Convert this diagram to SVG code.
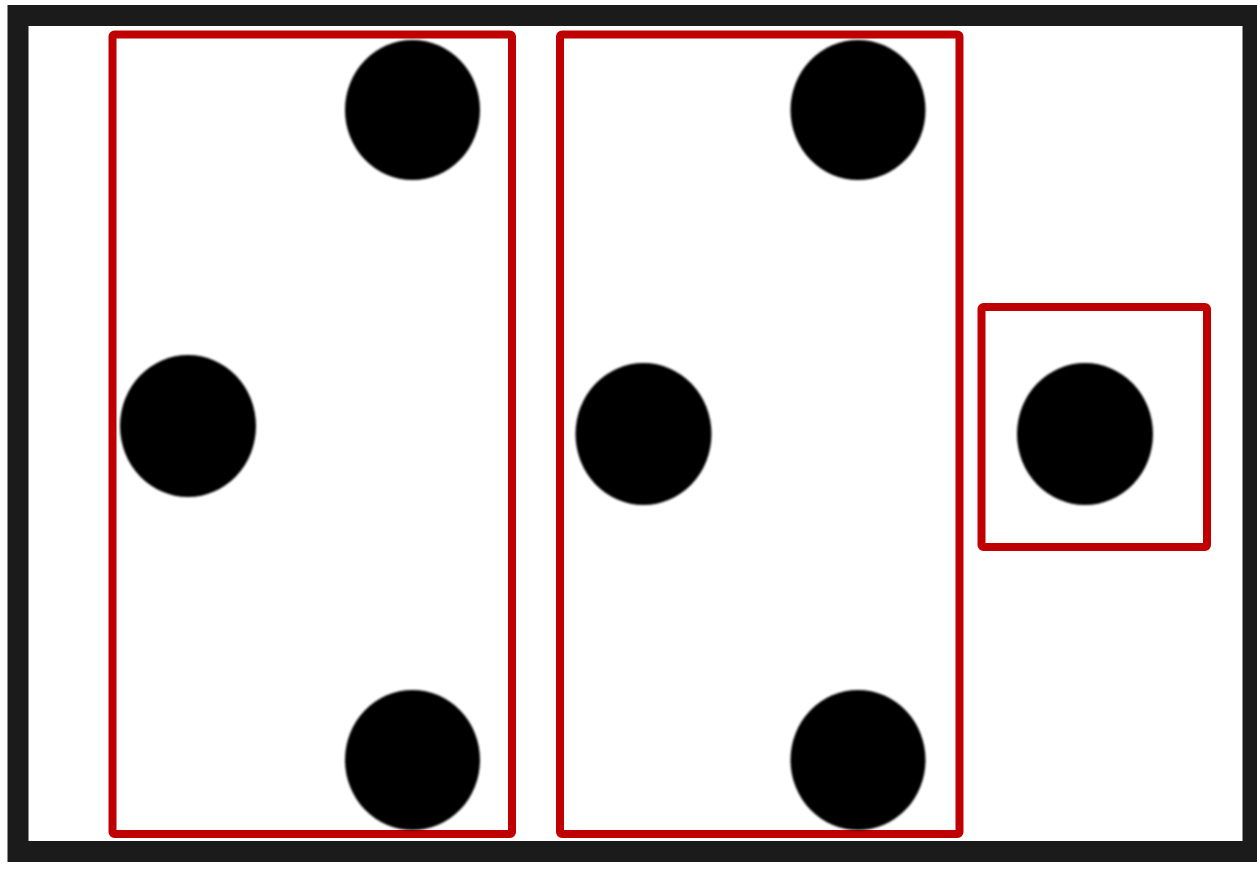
<svg xmlns="http://www.w3.org/2000/svg" width="1257" height="875" viewBox="0 0 1257 875">
  <style>
    .frame { fill: #ffffff; stroke: #1b1b1b; stroke-width: 21; }
    .group { fill: none; stroke: #c00000; stroke-width: 8; stroke-linejoin: round; }
    .dot { fill: #000000; filter: url(#soft); }
  </style>
  <defs>
    <filter id="soft" x="-10%" y="-10%" width="120%" height="120%">
      <feGaussianBlur stdDeviation="0.9"/>
    </filter>
  </defs>
  <rect x="0" y="0" width="1257" height="875" fill="#ffffff"/>
  <rect class="frame" x="18" y="15.5" width="1235" height="836"/>
  <g id="group1">
    <rect class="group" x="112.5" y="34.5" width="399.5" height="799.5" rx="2"/>
    <ellipse id="dot1" class="dot" cx="412.5" cy="110" rx="67.5" ry="70"/>
    <ellipse id="dot2" class="dot" cx="188" cy="426" rx="68" ry="71"/>
    <ellipse id="dot3" class="dot" cx="412.5" cy="760" rx="67.5" ry="70"/>
  </g>
  <g id="group2">
    <rect class="group" x="560" y="34.5" width="399.5" height="799.5" rx="2"/>
    <ellipse id="dot4" class="dot" cx="858" cy="110" rx="67.5" ry="70"/>
    <ellipse id="dot5" class="dot" cx="643.5" cy="434" rx="68" ry="71"/>
    <ellipse id="dot6" class="dot" cx="858" cy="760" rx="67.5" ry="70"/>
  </g>
  <g id="group3">
    <rect class="group" x="981.5" y="307" width="225.5" height="240" rx="2"/>
    <ellipse id="dot7" class="dot" cx="1085" cy="434" rx="68" ry="71"/>
  </g>
  <g id="connectors"></g>
</svg>
